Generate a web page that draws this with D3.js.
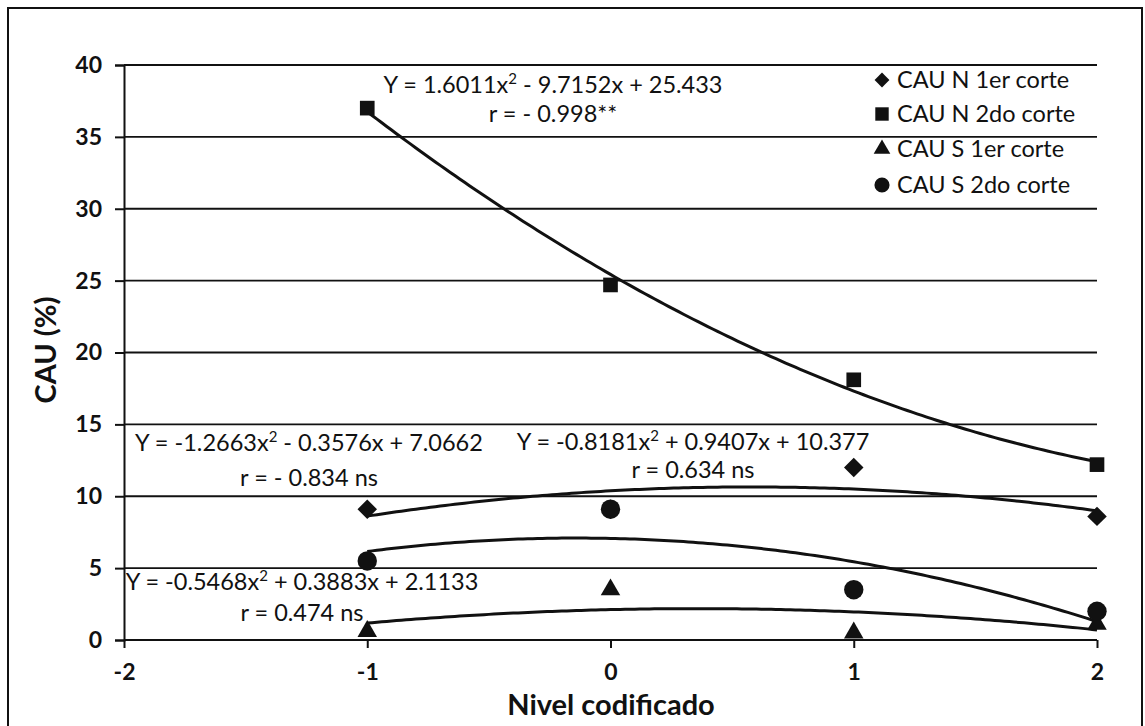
<!DOCTYPE html>
<html>
<head>
<meta charset="utf-8">
<script src="https://cdn.jsdelivr.net/npm/d3@7"></script>
<style>
  html, body { margin: 0; padding: 0; background: #fff; }
  svg { display: block; }
  text { font-family: Lato, "Open Sans", sans-serif; fill: #111; }
</style>
</head>
<body>
<svg id="chart" width="1145" height="726"></svg>
<script>
// ---- data ----
const levels = [-1, 0, 1, 2];
const seriesNames = ["CAU N 1er corte", "CAU N 2do corte", "CAU S 1er corte", "CAU S 2do corte"];
const cauN1 = [9.1, 9.1, 12.0, 8.6];
const cauN2 = [37.0, 24.7, 18.1, 12.2];
const cauS1 = [0.6, 3.5, 0.5, 1.1];
const cauS2 = [5.5, 9.1, 3.5, 2.0];
// trendline coefficients as printed on the chart [a, b, c] for a*x^2 + b*x + c
const coefN1 = [-0.8181, 0.9407, 10.377];
const coefN2 = [1.6011, -9.7152, 25.433];
const coefS1 = [-0.5468, 0.3883, 2.1133];
const coefS2 = [-1.2663, -0.3576, 7.0662];
const eqN1 = ["Y = -0.8181x² + 0.9407x + 10.377", "r = 0.634 ns"];
const eqN2 = ["Y = 1.6011x² - 9.7152x + 25.433", "r = - 0.998**"];
const eqS1 = ["Y = -0.5468x² + 0.3883x + 2.1133", "r = 0.474 ns"];
const eqS2 = ["Y = -1.2663x² - 0.3576x + 7.0662", "r = - 0.834 ns"];
const xTicks = [-2, -1, 0, 1, 2];
const yTicks = [0, 5, 10, 15, 20, 25, 30, 35, 40];

// ---- layout ----
const svg = d3.select("#chart");
const x = d3.scaleLinear().domain([-2, 2]).range([124, 1097]);
const y = d3.scaleLinear().domain([0, 40]).range([640, 65]);
const fmt = d => String(d);

// outer frame
svg.append("rect").attr("x", 8).attr("y", 8).attr("width", 1134).attr("height", 740)
  .attr("fill", "none").attr("stroke", "#111").attr("stroke-width", 2);

// gridlines + y axis
const yAxis = d3.axisLeft(y).tickValues(yTicks).tickSize(9).tickPadding(13).tickFormat(fmt);
const gy = svg.append("g").attr("transform", `translate(${x(-2)},0)`).call(yAxis);
gy.select(".domain").attr("stroke", "#111").attr("stroke-width", 2);
gy.selectAll(".tick line").attr("stroke", "#111").attr("stroke-width", 2);
gy.selectAll(".tick text").attr("font-size", 23).attr("font-weight", "bold")
  .style("font-family", "Lato, sans-serif").attr("fill", "#111");
svg.append("g").selectAll("line").data(yTicks.filter(d => d > 0)).join("line")
  .attr("x1", x(-2)).attr("x2", x(2)).attr("y1", d => y(d)).attr("y2", d => y(d))
  .attr("stroke", "#111").attr("stroke-width", 1.8);

// x axis
const xAxis = d3.axisBottom(x).tickValues(xTicks).tickSize(8).tickPadding(16).tickFormat(fmt);
const gx = svg.append("g").attr("transform", `translate(0,${y(0)})`).call(xAxis);
gx.select(".domain").attr("stroke", "#111").attr("stroke-width", 2).attr("d", `M${x(-2)},0H${x(2)}`);
gx.selectAll(".tick line").attr("stroke", "#111").attr("stroke-width", 2);
gx.selectAll(".tick text").attr("font-size", 23).attr("font-weight", "bold")
  .style("font-family", "Lato, sans-serif").attr("fill", "#111");

// axis titles
svg.append("text").attr("x", 611).attr("y", 715).attr("text-anchor", "middle")
  .attr("font-size", 29).attr("font-weight", "bold").text("Nivel codificado");
svg.append("text").attr("transform", "translate(56,350) rotate(-90)").attr("text-anchor", "middle")
  .attr("font-size", 29).attr("font-weight", "bold").text("CAU (%)");

// trend curves
const quad = c => v => c[0] * v * v + c[1] * v + c[2];
const xs = d3.range(-1, 2.0001, 0.02);
const line = d3.line().x(d => x(d[0])).y(d => y(d[1]));
[coefN2, coefN1, coefS2, coefS1].forEach(c => {
  const f = quad(c);
  svg.append("path").datum(xs.map(v => [v, f(v)])).attr("d", line)
    .attr("fill", "none").attr("stroke", "#111").attr("stroke-width", 3);
});

// markers
const sym = {
  diamond: d3.symbol().type(d3.symbolSquare).size(190),
  square: d3.symbol().type(d3.symbolSquare).size(215),
  triangle: d3.symbol().type(d3.symbolTriangle).size(165),
  circle: d3.symbol().type(d3.symbolCircle).size(295)
};
function drawMarkers(vals, kind) {
  svg.append("g").selectAll("path").data(vals.map((v, i) => [levels[i], v])).join("path")
    .attr("d", sym[kind])
    .attr("transform", d => `translate(${x(d[0])},${y(d[1])})` + (kind === "diamond" ? " rotate(45)" : ""))
    .attr("fill", "#111");
}
drawMarkers(cauN1, "diamond");
drawMarkers(cauN2, "square");
drawMarkers(cauS1, "triangle");
drawMarkers(cauS2, "circle");

// equation labels (the ² is drawn as a raised small "2")
function addEq(t, str) {
  const parts = str.split("²");
  parts.forEach((p, i) => {
    t.append("tspan").text(p);
    if (i < parts.length - 1) {
      t.append("tspan").attr("font-size", "0.62em").attr("dy", "-0.55em").text("2");
      parts[i + 1] !== undefined && t.append("tspan").attr("dy", "0.34em").text("");
    }
  });
}
function eq(lines, cx, cy1, cy2) {
  const g = svg.append("g").attr("font-size", 23.5).attr("text-anchor", "middle");
  const t1 = g.append("text").attr("x", cx).attr("y", cy1 + 8);
  const parts = lines[0].split("²");
  t1.append("tspan").text(parts[0]);
  t1.append("tspan").attr("font-size", 15).attr("dy", -9).text("2");
  t1.append("tspan").attr("dy", 9).text(parts[1]);
  g.append("text").attr("x", cx).attr("y", cy2).attr("dy", "0.35em").text(lines[1]);
}
eq(eqN2, 553, 85, 114);
eq(eqS2, 309, 443, 478);
eq(eqN1, 693, 442, 470);
eq(eqS1, 302, 582, 613);

// legend
const legendKinds = ["diamond", "square", "triangle", "circle"];
const legendY = [80, 114, 149, 185];
const lg = svg.append("g");
const legSym = {
  diamond: d3.symbol().type(d3.symbolSquare).size(110),
  square: d3.symbol().type(d3.symbolSquare).size(180),
  triangle: d3.symbol().type(d3.symbolTriangle).size(120),
  circle: d3.symbol().type(d3.symbolCircle).size(180)
};
seriesNames.forEach((name, i) => {
  const k = legendKinds[i];
  lg.append("path").attr("d", legSym[k])
    .attr("transform", `translate(882,${legendY[i]})` + (k === "diamond" ? " rotate(45)" : ""))
    .attr("fill", "#111");
  lg.append("text").attr("x", 897).attr("y", legendY[i]).attr("dy", "0.35em")
    .attr("font-size", 23.5).text(name);
});
</script>
</body>
</html>
